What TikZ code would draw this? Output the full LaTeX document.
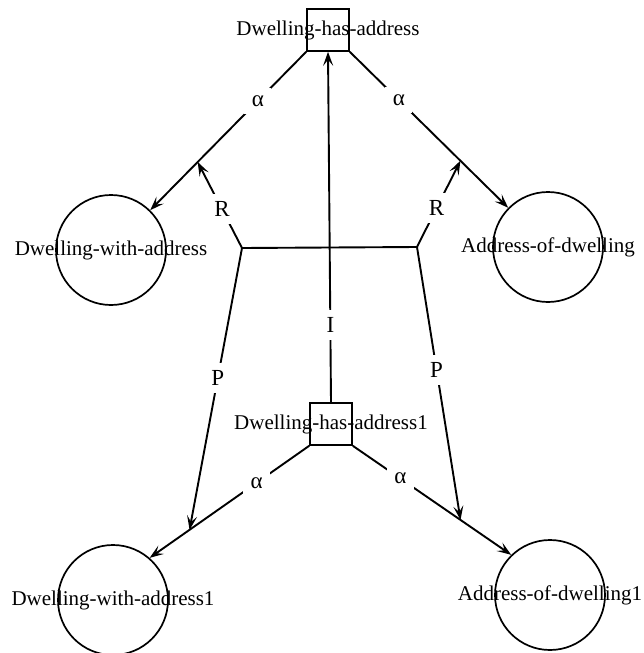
\documentclass[tikz,border=0pt]{standalone}
\usepackage{fontspec}
\setmainfont{Liberation Serif}
\usetikzlibrary{arrows.meta,calc}
\begin{document}
\begin{tikzpicture}[x=1pt,y=-1pt,
  every node/.style={font=\fontsize{21}{24}\selectfont},
  relbox/.style={draw,line width=1.6pt,minimum width=42pt,minimum height=42pt,inner sep=0pt},
  entity/.style={draw,circle,line width=1.7pt,minimum size=110pt,inner sep=0pt},
  caption/.style={inner sep=0pt},
  link/.style={line width=1.9pt},
  arr/.style={link,-{Stealth[length=14pt,width=10pt,inset=6pt]}},
  lab/.style={fill=white,inner sep=7.5pt,font=\fontsize{23}{24}\selectfont}]
\useasboundingbox (0,0) rectangle (643,653);

% relationship boxes
\node[relbox] (T) at (328,30) {};
\node[caption] (Tt) at (T) {Dwelling-has-address};
\node[relbox] (B) at (331,424) {};
\node[caption] (Bt) at (B) {Dwelling-has-address1};

% entity circles
\node[entity] (DWA) at (111,250) {};
\node[caption] (DWAt) at (DWA) {Dwelling-with-address};
\node[entity] (AOD) at (548,247) {};
\node[caption] (AODt) at (AOD) {Address-of-dwelling};
\node[entity] (DWA1) at (113,600) {};
\node[caption] (DWA1t) at (DWA1) {Dwelling-with-address1};
\node[entity] (AOD1) at (550,595) {};
\node[caption] (AOD1t) at (AOD1) {Address-of-dwelling1};

% role arcs
\draw[arr] (T.south west) -- (DWA) node[lab,pos=0.31]{α};
\draw[arr] (T.south east) -- (AOD) node[lab,pos=0.31]{α};
\draw[arr] (B.south west) -- (DWA1.49) node[lab,pos=0.33]{α};
\draw[arr] (B.south east) -- (AOD1.134) node[lab,pos=0.30]{α};

% junction points and arc targets
\coordinate (JL) at (242,248);
\coordinate (JR) at (417,247);
\coordinate (rl) at ($(T.south west)!0.556!(DWA.center)$);
\coordinate (rr) at ($(T.south east)!0.558!(AOD.center)$);
\coordinate (pl) at ($(B.south west)!0.75!(DWA1.49)$);
\coordinate (pr) at ($(B.south east)!0.68!(AOD1.134)$);

% connecting structure
\draw[link] (JL) -- (JR);
\draw[arr] (JL) -- (rl) node[lab,pos=0.45]{R};
\draw[arr] (JR) -- (rr) node[lab,pos=0.45]{R};
\draw[arr] (JL) -- (pl) node[lab,pos=0.46]{P};
\draw[arr] (JR) -- (pr) node[lab,pos=0.45]{P};
\draw[arr] (B.north) -- (T.south) node[lab,pos=0.22]{I};
\end{tikzpicture}
\end{document}
